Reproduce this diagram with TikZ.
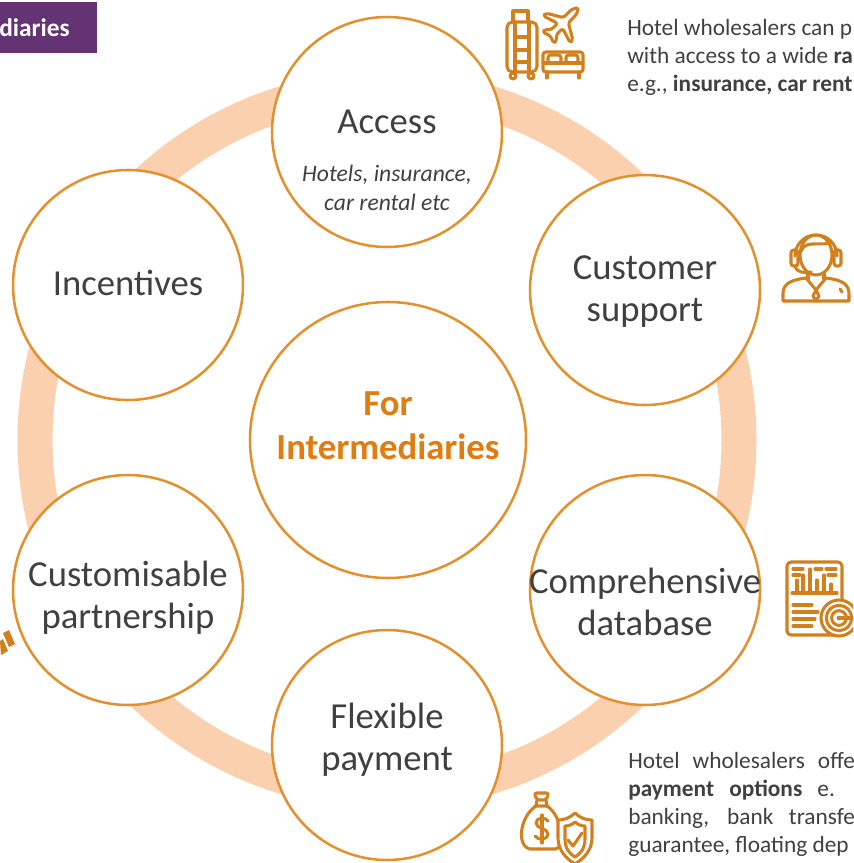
\documentclass[tikz,border=0pt]{standalone}
\usepackage{fontspec}
\setmainfont{Carlito}
\definecolor{ringpeach}{HTML}{FBD0AF}
\definecolor{rimorange}{HTML}{E3912F}
\definecolor{iconorange}{HTML}{D2801E}
\definecolor{hubtext}{HTML}{E07C10}
\definecolor{bodygray}{HTML}{404040}
\definecolor{tagpurple}{HTML}{643374}

\begin{document}
\begin{tikzpicture}[x=0.75pt,y=-0.75pt,
		bubble/.style={circle,draw=rimorange,line width=1.9pt,fill=white,minimum size=172.5pt,inner sep=0pt},
		hub/.style={bubble,minimum size=207pt},
		title/.style={text=bodygray,align=center,font=\fontsize{27.5}{31.5}\selectfont},
		note/.style={text=bodygray,anchor=base west,inner sep=0pt,font=\fontsize{17.5}{21}\selectfont},
		icon/.style={draw=iconorange,line width=2.3pt,line join=round,line cap=round}]
	\useasboundingbox (0,0) rectangle (853,863);
	\begin{scope}
		\clip (0,0) rectangle (853,863);
		% ring
		\draw [ringpeach, line width=26.25pt] (387,440) circle[radius=264pt];
		\node [bubble] (acc) at (387,132) {};
		\node [bubble] (sup) at (645,290) {};
		\node [bubble] (db) at (645,590) {};
		\node [bubble] (pay) at (387,745) {};
		\node [bubble] (part) at (128,590) {};
		\node [bubble] (inc) at (128,285) {};
		\node [hub] (mid) at (388,440) {};
		\node [title] (acc-t) at (387,122) {Access};
		\node [text=bodygray, align=center, font=\itshape\fontsize{17.7}{21.75}\selectfont] (acc-s) at (387,188) {Hotels, insurance,\\car rental etc};
		\node [title] (sup-t) at (645,292) {Customer\\support};
		\node [title] (db-t) at (645,602) {Comprehensive\\database};
		\node [title] (pay-t) at (387,740) {Flexible\\payment};
		\node [title] (part-t) at (128,598) {Customisable\\partnership};
		\node [title] (inc-t) at (128,283) {Incentives};
		\node [text=hubtext, align=center, font=\bfseries\fontsize{27.5}{33}\selectfont] (mid-t) at (388,426) {For\\Intermediaries};
		% tag
		\fill [tagpurple] (0,2) rectangle (97,53);
		\node [text=white, anchor=base west, inner sep=0pt, font=\bfseries\fontsize{19}{21}\selectfont] (tag) at (-1,36.5) {diaries};
		% notes
		\node [note] (n1) at (627,35.5) {Hotel wholesalers can p};
		\node [note] (n2) at (627,63.5) {with access to a wide \textbf{ra}};
		\node [note] (n3) at (627,91.5) {e.g., \textbf{insurance, car rent}};
		\node [note] (m1) at (628,768) {\makebox[170pt][s]{Hotel wholesalers offe}};
		\node [note] (m2) at (628,796) {\makebox[155pt][s]{\textbf{payment} \textbf{options} e.}};
		\node [note] (m3) at (628,824) {\makebox[170pt][s]{banking, bank transfe}};
		\node [note] (m4) at (628,852) {guarantee, floating dep};
		% travel icon
		\draw [icon, rounded corners=4pt] (507,22) rectangle (537,72);
		\draw [icon] (513,22) -- (513,11) -- (528,11) -- (528,22);
		\draw [icon] (515,22) -- (515,72) (529,22) -- (529,72);
		\draw [icon] (515,37) -- (529,37) (515,50) -- (529,50) (515,62) -- (529,62);
		\draw [icon] (513,76) circle[radius=2.2pt] (531,76) circle[radius=2.2pt];
		\begin{scope}[shift={(563,23)}, rotate=-45]
			\draw [icon, rounded corners=2pt] (0,-22) -- (3.5,-16) -- (3.5,-4) -- (19,5) -- (19,9) -- (3.5,4) -- (3.5,13) -- (8,17) -- (8,21) -- (0,18) -- (-8,21) -- (-8,17) -- (-3.5,13) -- (-3.5,4) -- (-19,9) -- (-19,5) -- (-3.5,-4) -- (-3.5,-16) -- cycle;
		\end{scope}
		\draw [icon, rounded corners=2pt] (543,52) rectangle (583,72);
		\draw [icon, rounded corners=2pt] (548,55) rectangle (561,63) (566,55) rectangle (578,63);
		\draw [icon] (543,63) -- (583,63) (547,72) -- (547,78) (579,72) -- (579,78);
		% headset icon
		\draw [icon] (816,255) ellipse[x radius=12pt, y radius=15pt];
		\draw [icon] (801,251) .. controls (806,240) and (816,246) .. (831,243);
		\draw [icon] (795,256) arc[start angle=180, end angle=0, radius=15.75pt];
		\draw [icon, rounded corners=2pt] (791,250) rectangle (798,266) (834,250) rectangle (841,266);
		\draw [icon] (795,266) .. controls (797,273) and (804,273) .. (811,272);
		\draw [icon] (808,273) -- (808,279) (824,273) -- (824,279);
		\draw [icon] (783,301) -- (783,294) .. controls (783,284) and (790,280) .. (806,278) -- (816,290) -- (826,278) .. controls (842,280) and (849,284) .. (849,294) -- (849,301) -- cycle;
		\draw [icon] (816,290) -- (813,296) -- (816,301) -- (819,296) -- cycle;
		\draw [icon] (840,289) -- (842,292);
		% report icon
		\draw [icon, rounded corners=3pt] (787,562) rectangle (842,635);
		\draw [icon] (793,569) -- (803,569) (793,575) -- (800,575);
		\draw [icon] (797,593) -- (797,580) (803,593) -- (803,575) (810,593) -- (810,569) (817,593) -- (817,580) (824,593) -- (824,575) (831,593) -- (831,584);
		\draw [icon] (815,569) -- (822,569) (826,569) -- (836,569) (828,575) -- (836,575);
		\draw [icon] (792,593) -- (837,593);
		\draw [icon] (793,605) -- (812,605) (793,612) -- (818,612) (793,619) -- (815,619) (793,626) -- (812,626);
		\draw [icon, fill=white] (839,618) circle[radius=13.5pt];
		\draw [icon] (839,618) circle[radius=9.5pt] (839,618) circle[radius=5.5pt];
		\fill [iconorange] (839,618) circle[radius=1.8pt];
		\draw [icon] (839,618) -- (856,618);
		% money icon
		\draw [icon, rounded corners=2pt] (534,793) -- (549,793) -- (546,800) -- (537,800) -- cycle;
		\draw [icon] (537,800) -- (536,806) (546,800) -- (547,806) (535,806) -- (548,806);
		\draw [icon] (536,806) .. controls (520,816) and (516,846) .. (530,849) -- (556,849) .. controls (566,846) and (562,816) .. (547,806);
		\draw [icon] (548,821) .. controls (546,817) and (536,817) .. (536,823) .. controls (536,829) and (548,828) .. (548,834) .. controls (548,840) and (538,841) .. (535,836);
		\draw [icon] (542,815) -- (542,843);
		\draw [icon, fill=white] (575,813) .. controls (570,818) and (564,820) .. (558,820) -- (558,838) .. controls (558,851) and (567,859) .. (575,864) .. controls (583,859) and (592,851) .. (592,838) -- (592,820) .. controls (586,820) and (580,818) .. (575,813) -- cycle;
		\draw [icon] (575,822) .. controls (572,825) and (568,826) .. (565,826) -- (565,839) .. controls (565,849) and (570,854) .. (575,857) .. controls (580,854) and (585,849) .. (585,839) -- (585,826) .. controls (582,826) and (578,825) .. (575,822) -- cycle;
		\draw [icon] (568,840) -- (573,846) -- (582,833);
		% edge icon part
		\fill [iconorange] (3,633) -- (9,630) -- (15,644) -- (9,647) -- cycle;
		\fill [iconorange] (0,641) -- (3,639) -- (8,651) -- (1,655) -- cycle;
	\end{scope}
\end{tikzpicture}
\end{document}
